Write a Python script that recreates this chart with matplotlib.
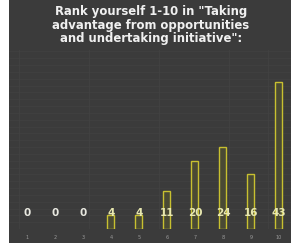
import matplotlib
matplotlib.use("Agg")
import matplotlib.pyplot as plt
from matplotlib.patches import Rectangle

ranks = [1, 2, 3, 4, 5, 6, 7, 8, 9, 10]
counts = [0, 0, 0, 4, 4, 11, 20, 24, 16, 43]
title = 'Rank yourself 1-10 in "Taking\nadvantage from opportunities\nand undertaking initiative":'

BG = "#3b3b3b"
W, H = 291, 243

fig = plt.figure(figsize=(W / 100, H / 100), dpi=100)
fig.patch.set_facecolor(BG)
# thin white strip on the left
fig.patches.append(Rectangle((0, 0), 9 / W, 1, transform=fig.transFigure,
                             facecolor="white", edgecolor="none", zorder=-1))

ax = fig.add_axes([9 / W, 14 / H, 1 - 9 / W, (229 - 50) / H])
ax.set_facecolor(BG)
ax.set_xlim(0.36, 10.43)
ax.set_ylim(0, 52.4)

# faint grid
for y in range(0, 53, 2):
    ax.axhline(y, color="#404040", linewidth=0.6, zorder=0)
for x in [0.7, 3.2, 5.7, 8.2, 9.6]:
    ax.axvline(x, color="#424242", linewidth=0.6, zorder=0)

edges = ["none" if c == 0 else "#c8c030" for c in counts]
ax.bar(ranks, counts, width=0.25, facecolor="#4a4a34", edgecolor=edges,
       linewidth=1.0, zorder=2)

for r, c in zip(ranks, counts):
    col = "#e8e8e0" if c == 0 else "#e8e8b0"
    ax.text(r, 4.7, str(c), ha="center", va="center", fontsize=7.5,
            fontweight="bold", color=col, zorder=3)

for s in ax.spines.values():
    s.set_visible(False)
ax.set_yticks([])
ax.set_xticks(ranks)
ax.set_xticklabels([str(r) for r in ranks], fontsize=3.5, color="#9a9a9a")
ax.tick_params(axis="x", length=0, pad=4)

fig.text(151 / W, 1 - 25 / H, title, ha="center", va="center", fontsize=8.4,
         fontweight="bold", color="#f0f0f0", linespacing=1.05)

fig.savefig("out.png", dpi=100, facecolor=fig.get_facecolor())
